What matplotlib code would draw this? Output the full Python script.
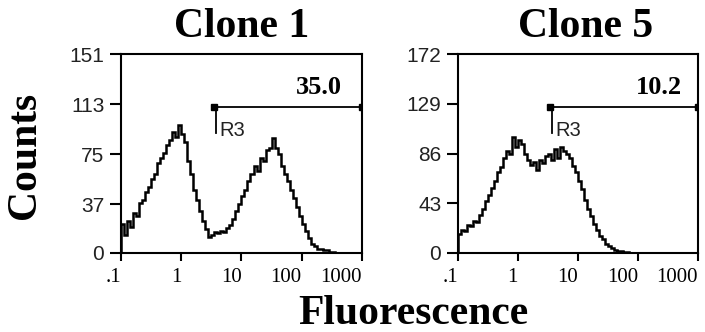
import numpy as np
import matplotlib
matplotlib.use("Agg")
import matplotlib.pyplot as plt

# histogram counts, 80 log-spaced channels from 0.1 to 1000
clone1_counts = [22, 14, 24, 20, 30, 28, 38, 40, 46, 50,
                 56, 60, 68, 72, 76, 82, 86, 92, 88, 97,
                 90, 84, 70, 60, 48, 40, 32, 24, 18, 12,
                 14, 16, 15, 17, 16, 19, 21, 26, 32, 37,
                 43, 48, 55, 60, 66, 62, 72, 70, 78, 80,
                 87, 80, 75, 66, 60, 55, 48, 42, 35, 28,
                 22, 17, 11, 7, 5, 3, 3, 2, 2, 1,
                 1, 0, 0, 0, 0, 0, 0, 0, 0, 0]
clone5_counts = [16, 20, 19, 24, 23, 28, 27, 33, 38, 45,
                 50, 56, 62, 70, 74, 82, 88, 86, 100, 92,
                 98, 94, 86, 80, 76, 79, 72, 80, 78, 84,
                 86, 80, 90, 82, 92, 88, 86, 82, 75, 70,
                 62, 55, 46, 38, 32, 25, 20, 15, 12, 8,
                 6, 4, 3, 2, 2, 1, 1, 0, 0, 0,
                 0, 0, 0, 0, 0, 0, 0, 0, 0, 0,
                 0, 0, 0, 0, 0, 0, 0, 0, 0, 0]

titles = ["Clone 1", "Clone 5"]
y_ticks = [[0, 37, 75, 113, 151], [0, 43, 86, 129, 172]]
x_ticks = [0.1, 1, 10, 100, 1000]
x_labels = [".1", "1", "10", "100", "1000"]
gate_start = [3.78, 3.69]
gate_level = [111, 126]
gate_drop = [91, 104]
gate_pct = ["35.0", "10.2"]

serif = "Liberation Serif"
sans = "Liberation Sans"

fig = plt.figure(figsize=(7.05, 3.32), dpi=100)
axes = [fig.add_axes([0.1716, 0.238, 0.3418, 0.599]),
        fig.add_axes([0.6496, 0.238, 0.3404, 0.599])]

edges = np.logspace(-1, 3, 81)
for i, (ax, counts) in enumerate(zip(axes, [clone1_counts, clone5_counts])):
    ax.stairs(counts, edges, color="black", lw=1.8)
    ax.set_xscale("log")
    ax.set_xlim(0.1, 1000)
    ax.set_ylim(0, y_ticks[i][-1])
    ax.set_xticks(x_ticks)
    ax.set_xticklabels(x_labels, fontfamily=serif, fontsize=15, ha="right")
    ax.minorticks_off()
    ax.set_yticks(y_ticks[i])
    ax.set_yticklabels([str(v) for v in y_ticks[i]], fontfamily=sans, fontsize=15,
                       color="#222222")
    ax.tick_params(axis="x", direction="out", length=6, width=1.5, pad=5)
    ax.tick_params(axis="y", direction="out", length=8, width=1.5, pad=4)
    for s in ax.spines.values():
        s.set_linewidth(1.5)

    # gate marker R3
    g0, gy = gate_start[i], gate_level[i]
    ax.plot([g0, 1000], [gy, gy], color="black", lw=1.3)
    ax.plot([g0, g0], [gy, gate_drop[i]], color="black", lw=1.3)
    ax.plot([g0 * 0.93], [gy], marker="s", color="black", ms=5)
    ax.plot([1000], [gy], marker="s", color="black", ms=5)
    ax.text(g0 * 1.15, gate_drop[i] + 2, "R3", fontfamily=sans, fontsize=14.5,
            color="#222222", va="center", ha="left")
    ax.text([0.917, 0.933][i], 0.83, gate_pct[i], transform=ax.transAxes,
            fontfamily=serif, fontweight="bold", fontsize=19, ha="right", va="center")

fig.text(0.343, 0.919, titles[0], fontfamily=serif, fontweight="bold", fontsize=30,
         ha="center", va="center")
fig.text(0.830, 0.919, titles[1], fontfamily=serif, fontweight="bold", fontsize=30,
         ha="center", va="center")
fig.text(0.035, 0.533, "Counts", fontfamily=serif, fontweight="bold", fontsize=30,
         rotation=90, ha="center", va="center")
fig.text(0.586, 0.054, "Fluorescence", fontfamily=serif, fontweight="bold", fontsize=30,
         ha="center", va="center")

fig.savefig("out.png", dpi=100)
